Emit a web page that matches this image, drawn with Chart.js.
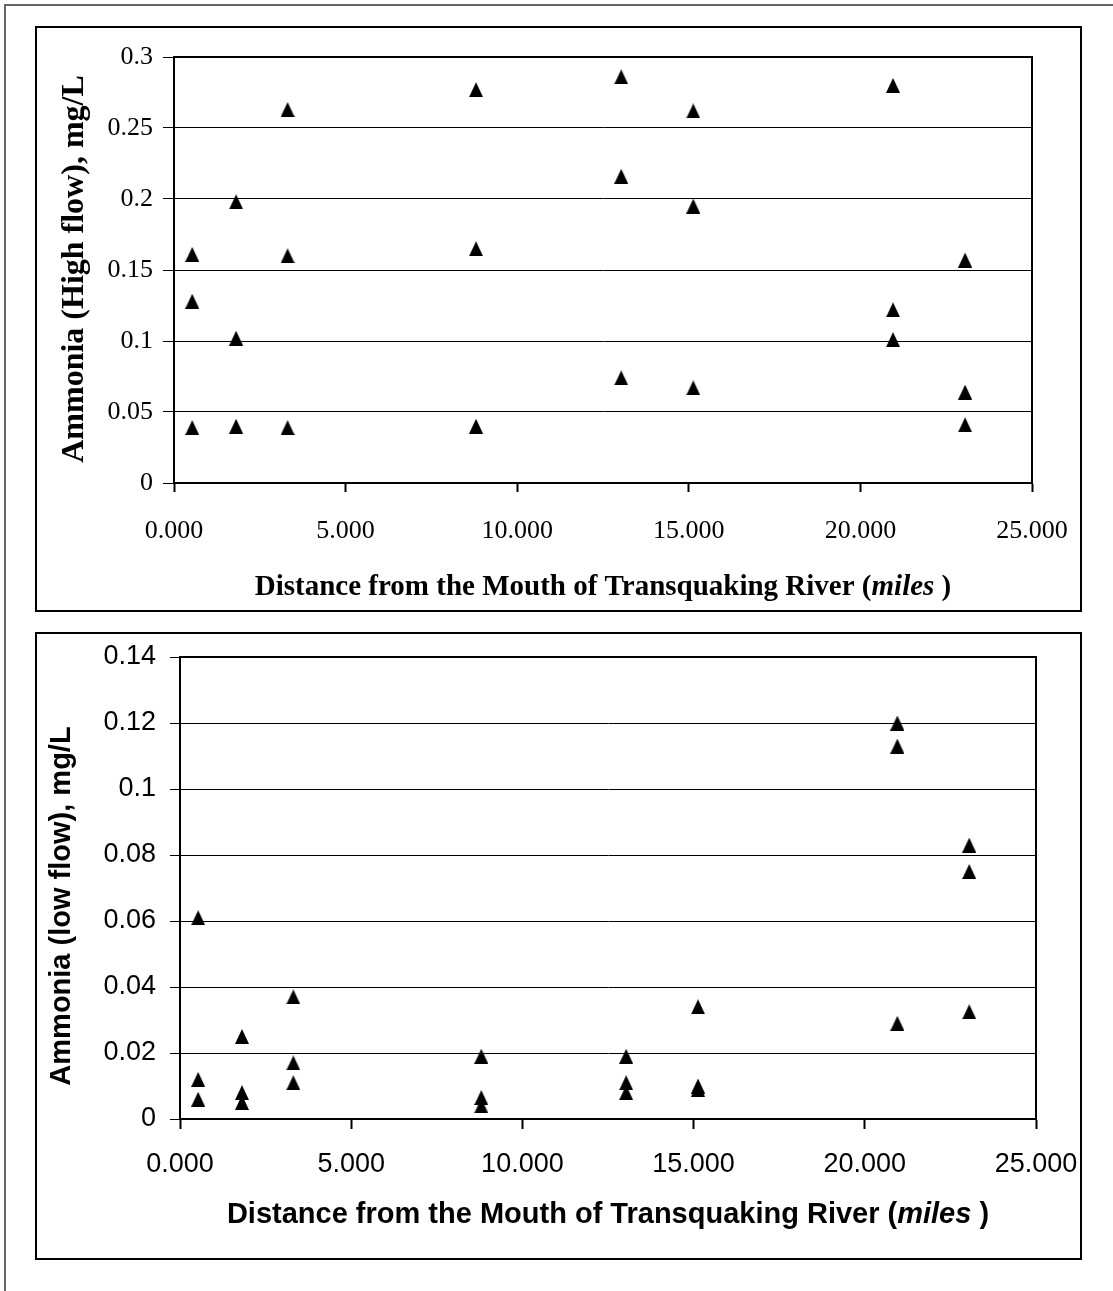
<!DOCTYPE html>
<html>
<head>
<meta charset="utf-8">
<script src="https://cdn.jsdelivr.net/npm/chart.js@4.4.1/dist/chart.umd.min.js"></script>
<style>
  html, body { margin: 0; padding: 0; background: #fff; }
  body { width: 1113px; height: 1291px; position: relative; overflow: hidden; }
  #frame { position: absolute; left: 4px; top: 4px; width: 1200px; height: 1400px;
           border-top: 2px solid #666; border-left: 2px solid #666; }
  .box { position: absolute; left: 35px; width: 1043px; border: 2px solid #000; background: #fff; }
  #boxHigh { top: 26px; height: 582px; }
  #boxLow { top: 632px; height: 624px; }
  .box canvas { display: block; }
</style>
</head>
<body>
<div id="frame"></div>
<div class="box" id="boxHigh"><canvas id="highChart" width="1043" height="582"></canvas></div>
<div class="box" id="boxLow"><canvas id="lowChart" width="1043" height="624"></canvas></div>

<script>
// sampling sites, miles from the mouth
const siteMiles = [0.53, 1.81, 3.31, 8.80, 13.03, 15.13, 20.95, 23.05];

// high flow ammonia, mg/L (three samples per site)
const highFlowA = [0.161, 0.198, 0.263, 0.277, 0.286, 0.262, 0.280, 0.157];
const highFlowB = [0.128, 0.102, 0.160, 0.165, 0.216, 0.195, 0.122, 0.064];
const highFlowC = [0.039, 0.040, 0.039, 0.040, 0.074, 0.067, 0.101, 0.041];

// low flow ammonia, mg/L
const lowFlowA = [0.061, 0.025, 0.037, 0.019, 0.019, 0.034, 0.120, 0.083];
const lowFlowB = [0.012, 0.008, 0.017, 0.0065, 0.011, 0.010, 0.113, 0.075];
const lowFlowC = [0.006, 0.005, 0.011, 0.004, 0.008, 0.009, 0.029, 0.0325];

const xTicks = [0, 5, 10, 15, 20, 25];
const highYTicks = [0, 0.05, 0.1, 0.15, 0.2, 0.25, 0.3];
const lowYTicks = [0, 0.02, 0.04, 0.06, 0.08, 0.1, 0.12, 0.14];

const xTitle = ['Distance from the Mouth of Transquaking River (', 'miles', ' )'];

// filled triangle marker, box centred on the point like Excel
const tri = document.createElement('canvas');
tri.width = 14;
tri.height = 15;
const tc = tri.getContext('2d');
tc.fillStyle = '#000';
tc.beginPath();
tc.moveTo(7, 0);
tc.lineTo(14, 15);
tc.lineTo(0, 15);
tc.closePath();
tc.fill();

function toPoints(ys) {
    return siteMiles.map((x, i) => ({ x: x, y: ys[i] }));
}

// border round the plot area
const plotFrame = {
    id: 'plotFrame',
    afterDraw(chart) {
        const a = chart.chartArea;
        const ctx = chart.ctx;
        ctx.save();
        ctx.strokeStyle = '#000';
        ctx.lineWidth = 2;
        ctx.strokeRect(a.left, a.top, a.right - a.left, a.bottom - a.top);
        ctx.restore();
    }
};

// axis titles: x one has an italic "miles", y one is rotated
function titlePlugin(cfg) {
    return {
        id: 'axisTitles',
        afterDraw(chart) {
            const ctx = chart.ctx;
            const a = chart.chartArea;
            const fonts = [
                `bold ${cfg.xTitleSize}px ${cfg.family}`,
                `italic bold ${cfg.xTitleSize}px ${cfg.family}`,
                `bold ${cfg.xTitleSize}px ${cfg.family}`
            ];
            ctx.save();
            ctx.fillStyle = '#000';
            ctx.textBaseline = 'middle';
            ctx.textAlign = 'left';
            let widths = xTitle.map((t, i) => { ctx.font = fonts[i]; return ctx.measureText(t).width; });
            let total = widths.reduce((s, w) => s + w, 0);
            let x = (a.left + a.right) / 2 - total / 2;
            xTitle.forEach((t, i) => {
                ctx.font = fonts[i];
                ctx.fillText(t, x, cfg.xTitleY);
                x += widths[i];
            });

            ctx.translate(cfg.yTitleX, cfg.yTitleY);
            ctx.rotate(-Math.PI / 2);
            ctx.textAlign = 'center';
            ctx.font = `bold ${cfg.yTitleSize}px ${cfg.family}`;
            ctx.fillText(cfg.yTitle, 0, 0);
            ctx.restore();
        }
    };
}

function makeChart(canvasId, sets, cfg) {
    return new Chart(document.getElementById(canvasId), {
        type: 'scatter',
        data: {
            datasets: sets.map(ys => ({
                data: toPoints(ys),
                pointStyle: tri,
                backgroundColor: '#000',
                borderColor: '#000',
                showLine: false
            }))
        },
        options: {
            responsive: false,
            animation: false,
            devicePixelRatio: 1,
            layout: { padding: { left: 0, top: cfg.padTop, right: cfg.padRight, bottom: 0 } },
            plugins: { legend: { display: false }, tooltip: { enabled: false } },
            scales: {
                x: {
                    type: 'linear',
                    min: 0,
                    max: 25,
                    afterBuildTicks: s => { s.ticks = xTicks.map(v => ({ value: v })); },
                    afterFit: s => {
                        s.height = cfg.xHeight;
                        s.paddingLeft = 0;
                        s.paddingRight = 0;
                    },
                    ticks: {
                        color: '#000',
                        padding: cfg.xTickPad,
                        maxRotation: 0,
                        autoSkip: false,
                        font: { family: cfg.family, size: cfg.tickSize },
                        callback: v => v.toFixed(3)
                    },
                    grid: { drawOnChartArea: false, drawTicks: true, tickLength: cfg.xTickLen, color: '#000', tickWidth: 2 },
                    border: { color: '#000', width: 2 }
                },
                y: {
                    type: 'linear',
                    min: 0,
                    max: cfg.yMax,
                    afterBuildTicks: s => { s.ticks = cfg.yTicks.map(v => ({ value: v })); },
                    afterFit: s => {
                        s.width = cfg.yWidth;
                        s.paddingTop = 0;
                        s.paddingBottom = 0;
                    },
                    ticks: {
                        color: '#000',
                        padding: cfg.yTickPad,
                        autoSkip: false,
                        font: { family: cfg.family, size: cfg.tickSize },
                        callback: v => String(v)
                    },
                    grid: { color: '#000', lineWidth: 1, drawTicks: true, tickLength: cfg.yTickLen },
                    border: { color: '#000', width: 2 }
                }
            }
        },
        plugins: [plotFrame, titlePlugin(cfg)]
    });
}

makeChart('highChart', [highFlowA, highFlowB, highFlowC], {
    family: '"Liberation Serif", "Times New Roman", serif',
    tickSize: 26,
    xTitleSize: 29,
    yTitleSize: 32,
    yMax: 0.3,
    yTicks: highYTicks,
    yTitle: 'Ammonia (High flow), mg/L',
    padTop: 29,
    padRight: 48,
    yWidth: 137,
    xHeight: 127,
    xTickLen: 9,
    yTickLen: 11,
    xTickPad: 24,
    yTickPad: 10,
    xTitleY: 560,
    yTitleX: 38,
    yTitleY: 241
});

makeChart('lowChart', [lowFlowA, lowFlowB, lowFlowC], {
    family: '"Liberation Sans", Arial, sans-serif',
    tickSize: 27,
    xTitleSize: 29,
    yTitleSize: 29,
    yMax: 0.14,
    yTicks: lowYTicks,
    yTitle: 'Ammonia (low flow), mg/L',
    padTop: 23,
    padRight: 44,
    yWidth: 143,
    xHeight: 139,
    xTickLen: 10,
    yTickLen: 10,
    xTickPad: 19,
    yTickPad: 14,
    xTitleY: 581,
    yTitleX: 25,
    yTitleY: 272
});
</script>
</body>
</html>
